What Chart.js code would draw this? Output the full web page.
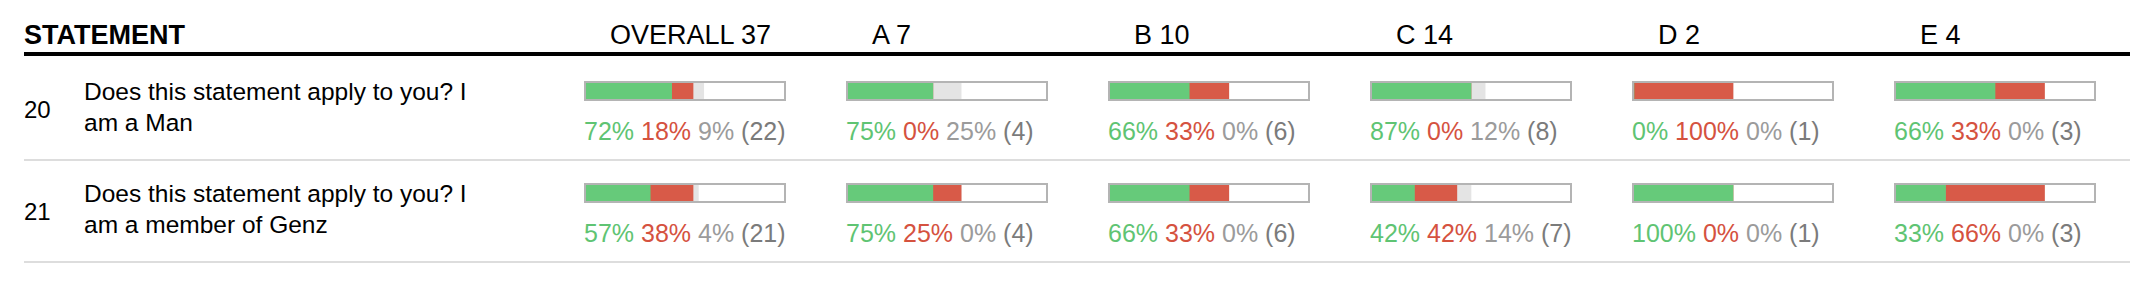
<!DOCTYPE html>
<html>
<head>
<meta charset="utf-8">
<title>Statement breakdown</title>
<script src="https://cdn.jsdelivr.net/npm/chart.js@4.4.1/dist/chart.umd.min.js"></script>
<style>
  body { margin: 0; width: 2130px; height: 286px; overflow: hidden; background: #fff; position: relative;
         font-family: "Liberation Sans", Arial, Helvetica, sans-serif; color: #000; }
  .abs { position: absolute; white-space: nowrap; }
  .rule { position: absolute; left: 24px; right: 0; }
  .bar { position: absolute; width: 202px; height: 20px; box-sizing: border-box; border: 2px solid #b4b4b4; background: #fff; }
  .bar canvas { display: block; }
  .yes { color: #5fc473; }
  .no { color: #d5523f; }
  .unsure { color: #9b9b9b; }
  .count { color: #7b7b7b; }
</style>
</head>
<body>
<script>
const groups = ['OVERALL', 'A', 'B', 'C', 'D', 'E'];
const groupSizes = [37, 7, 10, 14, 2, 4];
const statementIds = [20, 21];
const statements = [
  'Does this statement apply to you? I am a Man',
  'Does this statement apply to you? I am a member of Genz'
];
// answer counts, one row per statement, one entry per group
const yesCounts = [[16, 3, 4, 7, 0, 2], [12, 3, 4, 3, 1, 1]];
const noCounts = [[4, 0, 2, 0, 1, 1], [8, 1, 2, 3, 0, 2]];
const unsureCounts = [[2, 1, 0, 1, 0, 0], [1, 0, 0, 1, 0, 0]];

const GREEN = '#66ca7a';
const RED = '#d85a48';
const LIGHT = '#e4e4e4';

const colLeft = 584, colStep = 262, rowStep = 102;

function text(html, x, baseline, size, extra) {
  const d = document.createElement('div');
  d.className = 'abs';
  d.style.left = x + 'px';
  d.style.top = (baseline - 0.8465 * size) + 'px';
  d.style.fontSize = size + 'px';
  d.style.lineHeight = size + 'px';
  if (extra) Object.assign(d.style, extra);
  d.innerHTML = html;
  document.body.appendChild(d);
  return d;
}

function rule(top, h, color) {
  const d = document.createElement('div');
  d.className = 'rule';
  d.style.top = top + 'px';
  d.style.height = h + 'px';
  d.style.background = color;
  document.body.appendChild(d);
}

// header
text('STATEMENT', 24, 45, 27, { fontWeight: 'bold' });
groups.forEach((g, i) => text(g + ' ' + groupSizes[i], colLeft + 26 + i * colStep, 45, 27));
rule(52, 4, '#000');

statementIds.forEach((id, r) => {
  const off = r * rowStep;
  text(String(id), 24, 118.5 + off, 24);
  const s = text(statements[r], 84, 100 + off, 24.5, { whiteSpace: 'normal', width: '400px', lineHeight: '31px' });
  s.style.top = (100 + off - 24) + 'px';
  rule(159 + off, 2, '#dddddd');

  groups.forEach((g, i) => {
    const x = colLeft + i * colStep;
    const n = yesCounts[r][i] + noCounts[r][i] + unsureCounts[r][i];
    const pct = v => Math.floor(v / n * 100) + '%';

    const box = document.createElement('div');
    box.className = 'bar';
    box.style.left = x + 'px';
    box.style.top = (81 + off) + 'px';
    const cv = document.createElement('canvas');
    cv.width = 198;
    cv.height = 16;
    box.appendChild(cv);
    document.body.appendChild(box);

    new Chart(cv, {
      type: 'bar',
      data: {
        labels: [g],
        datasets: [
          { label: 'Yes', data: [yesCounts[r][i]], backgroundColor: GREEN },
          { label: 'No', data: [noCounts[r][i]], backgroundColor: RED },
          { label: 'Unsure', data: [unsureCounts[r][i]], backgroundColor: LIGHT }
        ]
      },
      options: {
        indexAxis: 'y',
        responsive: false,
        animation: false,
        events: [],
        layout: { padding: 0 },
        datasets: { bar: { barPercentage: 1, categoryPercentage: 1, borderWidth: 0 } },
        plugins: { legend: { display: false }, tooltip: { enabled: false } },
        scales: {
          x: { display: false, stacked: true, min: 0, max: groupSizes[i] },
          y: { display: false, stacked: true }
        }
      }
    });

    text('<span class="yes">' + pct(yesCounts[r][i]) + '</span> ' +
         '<span class="no">' + pct(noCounts[r][i]) + '</span> ' +
         '<span class="unsure">' + pct(unsureCounts[r][i]) + '</span> ' +
         '<span class="count">(' + n + ')</span>', x, 140 + off, 25);
  });
});
</script>
</body>
</html>
